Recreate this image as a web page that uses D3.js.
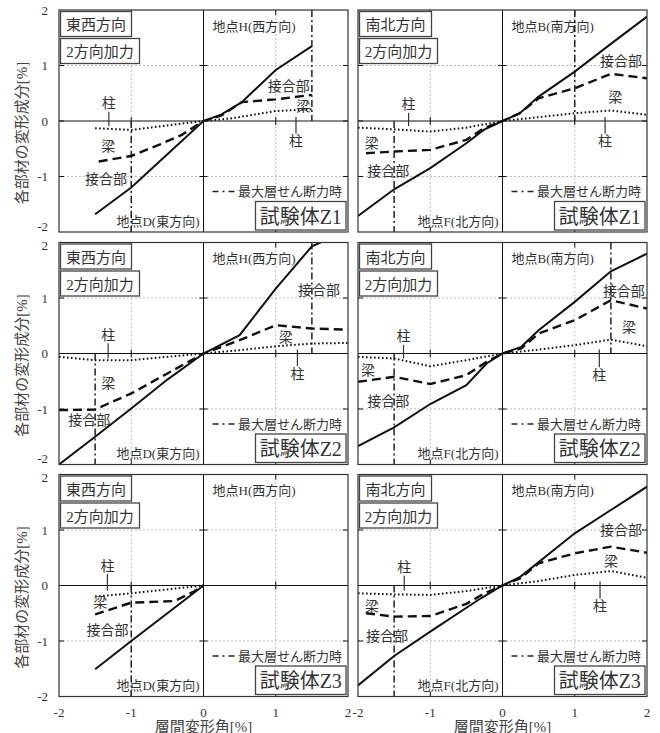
<!DOCTYPE html>
<html><head><meta charset="utf-8">
<script src="https://cdn.jsdelivr.net/npm/d3@7"></script>
<style>
html,body{margin:0;padding:0;background:#fff;}
svg{display:block;font-family:"Liberation Serif","Noto Sans CJK JP",serif;}
</style></head>
<body><svg id="c" width="660" height="733"></svg>
<script>
// ---------- text / ticks ----------
const X_TICKS = [-2, -1, 0, 1, 2];
const Y_TICKS = [-2, -1, 0, 1, 2];
const GRID_VALUES = [-1, 1];
const SPECIMENS = ["試験体Z1", "試験体Z2", "試験体Z3"];
const DIRECTIONS = ["東西方向", "南北方向"];
const LOADING = "2方向加力";
const POINT_TOP = ["地点H(西方向)", "地点B(南方向)"];
const POINT_BOTTOM = ["地点D(東方向)", "地点F(北方向)"];
const LEGEND_TEXT = "最大層せん断力時";
const X_TITLE = "層間変形角[%]";
const Y_TITLE = "各部材の変形成分[%]";
const LBL_COL = "柱", LBL_BEAM = "梁", LBL_JOINT = "接合部";

// ---------- series: [drift %, component %] ----------
// Z1 east-west
const z1EW_joint = [[-1.5,-1.68],[-1.0,-1.2],[-0.5,-0.6],[0,0],[0.25,0.12],[0.53,0.34],[1.0,0.92],[1.5,1.35]];
const z1EW_beam  = [[-1.45,-0.73],[-1.0,-0.63],[-0.6,-0.42],[-0.3,-0.25],[0,0],[0.25,0.1],[0.53,0.34],[1.0,0.39],[1.5,0.47]];
const z1EW_col   = [[-1.5,-0.13],[-1.0,-0.16],[0,0],[0.4,0.05],[1.0,0.18],[1.5,0.21]];
const z1EW_max   = [-1.0, 1.5];
// Z1 north-south
const z1NS_joint = [[-2,-1.71],[-1.5,-1.23],[-1.0,-0.85],[-0.5,-0.40],[-0.26,-0.16],[0,0],[0.24,0.14],[0.5,0.44],[1.0,0.89],[1.5,1.39],[2.0,1.88]];
const z1NS_beam  = [[-1.89,-0.58],[-1.5,-0.55],[-1.0,-0.52],[-0.5,-0.34],[-0.26,-0.13],[0,0],[0.24,0.14],[0.5,0.41],[1.0,0.59],[1.5,0.85],[2.0,0.77]];
const z1NS_col   = [[-2,-0.12],[-1.5,-0.15],[-1.0,-0.19],[-0.5,-0.12],[0,0],[0.5,0.07],[1.0,0.14],[1.5,0.19],[2.0,0.11]];
const z1NS_max   = [-1.5, 1.0];
// Z2 east-west
const z2EW_joint = [[-2,-2],[-1.5,-1.5],[-1.0,-0.99],[-0.5,-0.47],[0,0],[0.5,0.33],[1.0,1.17],[1.5,1.93],[1.62,2.0]];
const z2EW_beam  = [[-2,-1.02],[-1.5,-1.01],[-1.33,-0.91],[-1.0,-0.72],[-0.5,-0.36],[0,0],[0.5,0.24],[1.0,0.51],[1.5,0.45],[2.0,0.43]];
const z2EW_col   = [[-2,-0.06],[-1.5,-0.12],[-1.0,-0.12],[-0.5,-0.06],[0,0],[0.5,0.06],[1.0,0.13],[1.5,0.18],[2.0,0.19]];
const z2EW_max   = [-1.5, 1.5];
// Z2 north-south
const z2NS_joint = [[-2,-1.67],[-1.5,-1.33],[-1.0,-0.91],[-0.5,-0.57],[-0.22,-0.18],[0,0],[0.26,0.12],[0.5,0.42],[1.0,0.93],[1.5,1.48],[2.0,1.80]];
const z2NS_beam  = [[-2,-0.51],[-1.5,-0.42],[-1.0,-0.55],[-0.5,-0.39],[-0.22,-0.15],[0,0],[0.26,0.09],[0.5,0.36],[1.0,0.60],[1.5,0.96],[2.0,0.81]];
const z2NS_col   = [[-2,-0.06],[-1.5,-0.09],[-1.0,-0.23],[-0.5,-0.12],[0,0],[0.5,0.07],[1.0,0.15],[1.5,0.25],[2.0,0.13]];
const z2NS_max   = [-1.5, 1.5];
// Z3 east-west
const z3EW_joint = [[-1.5,-1.51],[-1.0,-1.0],[-0.5,-0.5],[0,0]];
const z3EW_beam  = [[-1.5,-0.52],[-1.0,-0.31],[-0.4,-0.28],[-0.15,-0.12],[0,0]];
const z3EW_col   = [[-1.5,-0.2],[-1.0,-0.14],[-0.5,-0.07],[0,0]];
const z3EW_max   = [-1.0];
// Z3 north-south
const z3NS_joint = [[-2,-1.80],[-1.5,-1.27],[-1.0,-0.83],[-0.3,-0.23],[0,0],[0.25,0.16],[1.0,0.94],[1.5,1.36],[2.0,1.78]];
const z3NS_beam  = [[-1.89,-0.50],[-1.5,-0.56],[-1.0,-0.55],[-0.5,-0.33],[-0.25,-0.14],[0,0],[0.25,0.13],[0.5,0.40],[1.0,0.58],[1.5,0.70],[2.0,0.59]];
const z3NS_col   = [[-2,-0.14],[-1.5,-0.16],[-1.0,-0.17],[-0.5,-0.10],[0,0],[0.5,0.08],[1.0,0.19],[1.5,0.26],[2.0,0.14]];
const z3NS_max   = [-1.5];

// label anchor points (data units) per panel: [text, x, y]
const z1EW_labels = [[LBL_COL,-1.31,0.31],[LBL_COL,1.28,-0.37],[LBL_BEAM,-1.32,-0.46],[LBL_JOINT,-1.35,-1.06],[LBL_JOINT,1.18,0.62],[LBL_BEAM,1.38,0.27]];
const z1NS_labels = [[LBL_COL,-1.30,0.29],[LBL_COL,1.42,-0.37],[LBL_BEAM,-1.81,-0.40],[LBL_JOINT,-1.58,-0.91],[LBL_JOINT,1.64,1.07],[LBL_BEAM,1.56,0.43]];
const z2EW_labels = [[LBL_COL,-1.32,0.33],[LBL_COL,1.30,-0.37],[LBL_BEAM,-1.32,-0.54],[LBL_JOINT,-1.58,-1.2],[LBL_JOINT,1.60,1.13],[LBL_BEAM,1.14,0.29]];
const z2NS_labels = [[LBL_COL,-1.37,0.30],[LBL_COL,1.34,-0.39],[LBL_BEAM,-1.86,-0.30],[LBL_JOINT,-1.58,-0.87],[LBL_JOINT,1.68,1.11],[LBL_BEAM,1.75,0.47]];
const z3EW_labels = [[LBL_COL,-1.33,0.35],[LBL_BEAM,-1.43,-0.31],[LBL_JOINT,-1.33,-0.81]];
const z3NS_labels = [[LBL_COL,-1.36,0.32],[LBL_COL,1.35,-0.38],[LBL_BEAM,-1.81,-0.38],[LBL_JOINT,-1.60,-0.92],[LBL_JOINT,1.64,1.0],[LBL_BEAM,1.50,0.43]];

const PANELS = [
  [{joint:z1EW_joint,beam:z1EW_beam,col:z1EW_col,max:z1EW_max,labels:z1EW_labels},
   {joint:z1NS_joint,beam:z1NS_beam,col:z1NS_col,max:z1NS_max,labels:z1NS_labels}],
  [{joint:z2EW_joint,beam:z2EW_beam,col:z2EW_col,max:z2EW_max,labels:z2EW_labels},
   {joint:z2NS_joint,beam:z2NS_beam,col:z2NS_col,max:z2NS_max,labels:z2NS_labels}],
  [{joint:z3EW_joint,beam:z3EW_beam,col:z3EW_col,max:z3EW_max,labels:z3EW_labels},
   {joint:z3NS_joint,beam:z3NS_beam,col:z3NS_col,max:z3NS_max,labels:z3NS_labels}]
];

// ---------- layout ----------
const svg = d3.select("#c");
const COL_X = [59, 358], PW = 289;
const ROW_Y = [10, 242.5, 474.5], PH = 222;
const TXT = "#333";
const defs = svg.append("defs");
const NROWS = ROW_Y.length;

PANELS.forEach((row, ri) => {
  row.forEach((p, ci) => {
    const x0 = COL_X[ci], y0 = ROW_Y[ri];
    const x = d3.scaleLinear().domain([-2, 2]).range([x0, x0 + PW]);
    const y = d3.scaleLinear().domain([-2, 2]).range([y0 + PH, y0]);
    const g = svg.append("g");
    const cid = `clip${ri}${ci}`;
    defs.append("clipPath").attr("id", cid).append("rect")
      .attr("x", x0).attr("y", y0).attr("width", PW).attr("height", PH);

    // grid
    GRID_VALUES.forEach(v => {
      g.append("line").attr("x1", x(v)).attr("x2", x(v)).attr("y1", y0).attr("y2", y0 + PH)
        .attr("stroke", "#bbb").attr("stroke-width", 1).attr("stroke-dasharray", "2,2");
      g.append("line").attr("y1", y(v)).attr("y2", y(v)).attr("x1", x0).attr("x2", x0 + PW)
        .attr("stroke", "#bbb").attr("stroke-width", 1).attr("stroke-dasharray", "2,2");
    });
    // zero axes
    g.append("line").attr("x1", x(0)).attr("x2", x(0)).attr("y1", y0).attr("y2", y0 + PH)
      .attr("stroke", "#111").attr("stroke-width", 1);
    g.append("line").attr("y1", y(0)).attr("y2", y(0)).attr("x1", x0).attr("x2", x0 + PW)
      .attr("stroke", "#111").attr("stroke-width", 1);
    // axis ticks at ±1 on zero axes and frame
    GRID_VALUES.forEach(v => {
      g.append("line").attr("x1", x(v)).attr("x2", x(v)).attr("y1", y(0) - 4).attr("y2", y(0) + 4)
        .attr("stroke", "#111").attr("stroke-width", 1);
      g.append("line").attr("y1", y(v)).attr("y2", y(v)).attr("x1", x(0) - 4).attr("x2", x(0) + 4)
        .attr("stroke", "#111").attr("stroke-width", 1);
    });
    Y_TICKS.slice(1, -1).forEach(v => {
      g.append("line").attr("y1", y(v)).attr("y2", y(v)).attr("x1", x0).attr("x2", x0 + 5).attr("stroke", "#111");
      g.append("line").attr("y1", y(v)).attr("y2", y(v)).attr("x1", x0 + PW - 5).attr("x2", x0 + PW).attr("stroke", "#111");
    });
    X_TICKS.slice(1, -1).forEach(v => {
      g.append("line").attr("x1", x(v)).attr("x2", x(v)).attr("y1", y0).attr("y2", y0 + 5).attr("stroke", "#111");
      g.append("line").attr("x1", x(v)).attr("x2", x(v)).attr("y1", y0 + PH - 5).attr("y2", y0 + PH).attr("stroke", "#111");
    });

    // max shear vertical dash-dot lines
    p.max.forEach(v => {
      g.append("line").attr("x1", x(v)).attr("x2", x(v))
        .attr("y1", v < 0 ? y(0) : y(2)).attr("y2", v < 0 ? y(-2) : y(0))
        .attr("stroke", "#222").attr("stroke-width", 1.5).attr("stroke-dasharray", "7,3,2,3");
    });

    // series lines
    const line = d3.line().x(d => x(d[0])).y(d => y(d[1]));
    const lg = g.append("g").attr("clip-path", `url(#${cid})`);
    lg.append("path").attr("d", line(p.col)).attr("fill", "none").attr("stroke", "#111")
      .attr("stroke-width", 2).attr("stroke-dasharray", "1.6,2.4");
    lg.append("path").attr("d", line(p.beam)).attr("fill", "none").attr("stroke", "#111")
      .attr("stroke-width", 2.4).attr("stroke-dasharray", "9,5");
    lg.append("path").attr("d", line(p.joint)).attr("fill", "none").attr("stroke", "#111")
      .attr("stroke-width", 2);

    // component labels
    p.labels.forEach(([t, lx, ly]) => {
      g.append("text").attr("x", x(lx)).attr("y", y(ly)).attr("text-anchor", "middle")
        .attr("dominant-baseline", "central").attr("font-size", 14).attr("fill", TXT).text(t);
      if (t === LBL_COL) {
        const up = ly > 0;
        g.append("line").attr("x1", x(lx)).attr("x2", x(lx))
          .attr("y1", up ? y(ly) + 8 : y(ly) - 8)
          .attr("y2", up ? y(0) + 5 : y(0) - 4)
          .attr("stroke", "#333").attr("stroke-width", 1.2);
      }
    });

    // direction / loading boxes
    const box = (bx, by, bw, bh, t, fs) => {
      g.append("rect").attr("x", bx).attr("y", by).attr("width", bw).attr("height", bh)
        .attr("fill", "#fff").attr("stroke", "#444").attr("stroke-width", 1.3);
      g.append("text").attr("x", bx + bw / 2).attr("y", by + bh / 2 + 1).attr("text-anchor", "middle")
        .attr("dominant-baseline", "central").attr("font-size", fs).attr("fill", TXT).text(t);
    };
    box(x0 + 1.5, y0 + 1.5, ci === 0 ? 71 : 72, 25, DIRECTIONS[ci], 15);
    box(x0 + 1.5, y0 + 28.5, ci === 0 ? 79 : 78, 25, LOADING, 15);

    // point labels
    g.append("text").attr("x", x(0) + 9).attr("y", y0 + 16).attr("dominant-baseline", "central")
      .attr("font-size", 13).attr("fill", TXT).text(POINT_TOP[ci]);
    g.append("text").attr("x", x(0) - 4).attr("y", y0 + PH - 11).attr("text-anchor", "end")
      .attr("dominant-baseline", "central").attr("font-size", 13).attr("fill", TXT).text(POINT_BOTTOM[ci]);

    // legend
    const lgy = y0 + PH - 40.5;
    g.append("line").attr("x1", x(0) + 9).attr("x2", x(0) + 31).attr("y1", lgy).attr("y2", lgy)
      .attr("stroke", "#222").attr("stroke-width", 1.5).attr("stroke-dasharray", "6,4,2,4");
    g.append("text").attr("x", x(0) + 34.5).attr("y", lgy).attr("dominant-baseline", "central")
      .attr("font-size", 13).attr("fill", TXT).text(LEGEND_TEXT);

    // specimen box
    const sbx = x(0) + 52, sbw = x0 + PW - 2 - sbx;
    box(sbx, y0 + PH - 30.5, sbw, 28.5, SPECIMENS[ri], 20);

    // frame
    g.append("rect").attr("x", x0).attr("y", y0).attr("width", PW).attr("height", PH)
      .attr("fill", "none").attr("stroke", "#333").attr("stroke-width", 1.2);

    // y tick labels (left column only)
    if (ci === 0) {
      Y_TICKS.forEach(v => {
        let dy = 0;
        if (v === -2 && ri < NROWS - 1) dy = -6;   // shared boundary with next row
        if (v === 2 && ri > 0) dy = 3;
        svg.append("text").attr("x", 48).attr("y", y(v) + dy).attr("text-anchor", "end")
          .attr("dominant-baseline", "central").attr("font-size", 13).attr("fill", TXT).text(String(v));
      });
      svg.append("text").attr("transform", `translate(22,${y0 + PH / 2 + 12}) rotate(-90)`)
        .attr("text-anchor", "middle").attr("dominant-baseline", "central")
        .attr("font-size", 15).attr("fill", "#444").text(Y_TITLE);
    }
    // x tick labels (bottom row only)
    if (ri === NROWS - 1) {
      X_TICKS.forEach(v => {
        svg.append("text").attr("x", x(v)).attr("y", y0 + PH + 16).attr("text-anchor", "middle")
          .attr("dominant-baseline", "central").attr("font-size", 13).attr("fill", TXT).text(String(v));
      });
      svg.append("text").attr("x", x(0)).attr("y", y0 + PH + 30).attr("text-anchor", "middle")
        .attr("dominant-baseline", "central").attr("font-size", 15).attr("fill", "#444").text(X_TITLE);
    }
  });
});
</script></body></html>
